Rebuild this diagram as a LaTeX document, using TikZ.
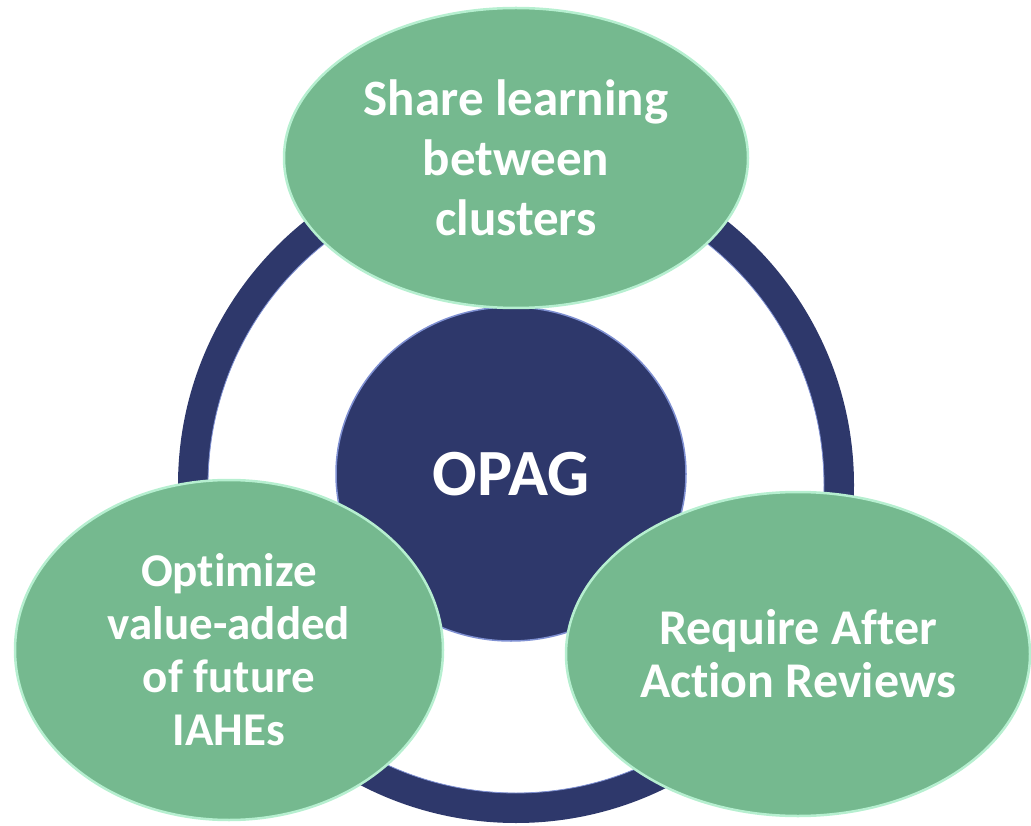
\documentclass[tikz,border=0pt]{standalone}
\usepackage{fontspec}
\setmainfont{Carlito}[Ligatures=NoCommon]
\usetikzlibrary{shapes.geometric}
\definecolor{opgreen}{HTML}{75B98F}
\definecolor{opnavy}{HTML}{2E386B}
\definecolor{oprim}{HTML}{B6EFD0}
\definecolor{opnavyrim}{HTML}{7F90D2}
\begin{document}
\begin{tikzpicture}[x=1pt,y=-1pt,
  bubble/.style={ellipse, fill=opgreen, draw=oprim, line width=2.5pt,
    inner sep=0pt, text=white, align=center},
  hubstyle/.style={ellipse, fill=opnavy, draw=opnavyrim, line width=1.5pt,
    inner sep=0pt, text=white, font=\fontsize{66}{78}\selectfont\bfseries},
  ringstyle/.style={circle, draw=opnavy, line width=30pt, inner sep=0pt}
]
\useasboundingbox (0,0) rectangle (1031,826);
\node[ringstyle, minimum size=646pt] (ring) at (516,485) {};
\draw[opnavyrim, line width=0.8pt] (ring.center) circle (308);
\node[hubstyle, minimum width=350pt, minimum height=334pt] (hub) at (511,474) {OPAG};
\node[bubble, minimum width=464pt, minimum height=300pt,
  font=\fontsize{51}{60}\selectfont\bfseries] (share) at (516,158)
  {Share learning\\between\\clusters};
\node[bubble, minimum width=428pt, minimum height=340pt,
  font=\fontsize{47}{53}\selectfont\bfseries] (optim) at (229,650)
  {Optimize\\value-added\\of future\\IAHEs};
\node[bubble, minimum width=464pt, minimum height=324pt,
  font=\fontsize{50}{53}\selectfont\bfseries] (review) at (798,654)
  {Require After\\Action Reviews};
\end{tikzpicture}
\end{document}
